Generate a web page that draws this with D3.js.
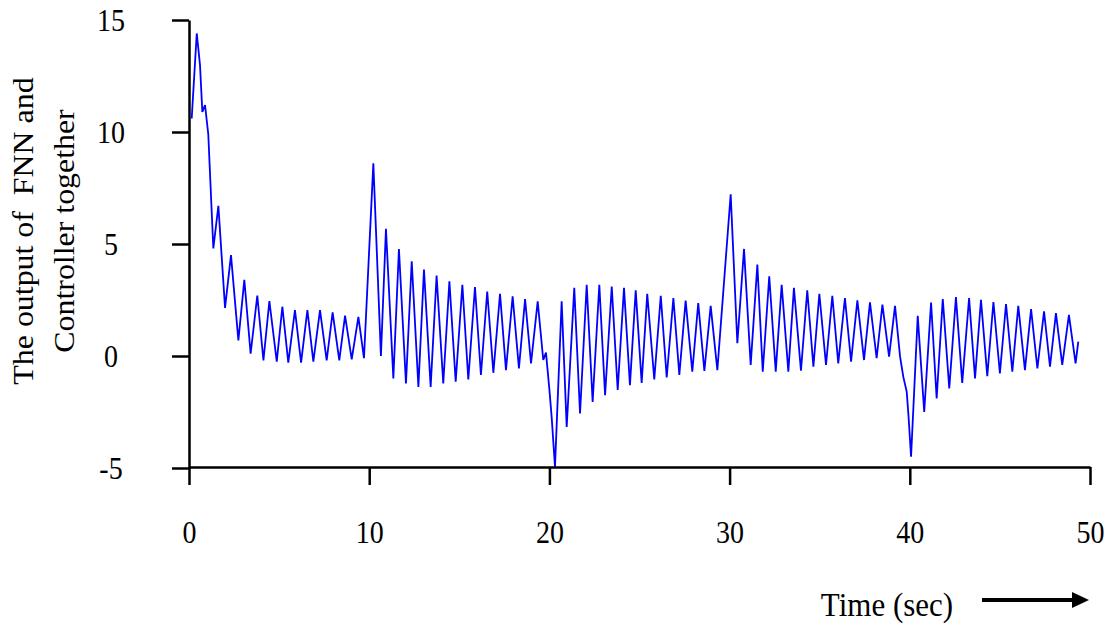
<!DOCTYPE html>
<html><head><meta charset="utf-8">
<script src="https://cdn.jsdelivr.net/npm/d3@7"></script>
<style>
body{margin:0;background:#fff}
svg{display:block}
text{white-space:pre}
</style>
</head><body>
<script>
const xTicks = [0, 10, 20, 30, 40, 50];
const yTicks = [-5, 0, 5, 10, 15];
const yLabelLines = ["The output of  FNN and", "Controller together"];
const xLabel = "Time (sec)";

// Extrema of the output signal (time in s, value)
const time = [
  0.15,0.43,0.61,0.74,0.89,1.07,1.35,1.63,2.00,2.33,2.74,3.07,3.42,3.79,4.13,4.46,4.87,5.18,5.51,5.88,
  6.22,6.57,6.90,7.27,7.64,7.97,8.34,8.66,9.03,9.40,9.71,
  10.23,10.65,10.93,11.34,11.65,12.04,12.36,12.73,13.04,13.41,13.74,14.11,14.45,14.80,15.17,15.50,15.87,
  16.20,16.55,16.89,17.26,17.59,17.96,18.31,18.65,18.98,19.35,19.66,19.81,20.00,20.13,20.31,
  20.68,20.96,21.38,21.70,22.07,22.40,22.77,23.09,23.46,23.79,24.14,24.47,24.79,25.12,25.43,25.82,
  26.18,26.51,26.88,27.21,27.56,27.93,28.26,28.60,28.95,29.32,
  30.06,30.43,30.80,31.17,31.54,31.84,32.20,32.56,32.89,33.26,33.57,33.96,34.31,34.65,34.98,35.35,
  35.70,36.03,36.40,36.74,37.09,37.46,37.79,38.16,38.48,38.85,39.18,39.46,39.64,39.83,39.93,40.07,
  40.44,40.80,41.18,41.49,41.83,42.19,42.56,42.91,43.29,43.62,43.95,44.30,44.64,45.00,45.34,45.69,
  46.02,46.39,46.73,47.08,47.45,47.78,48.11,48.46,48.83,49.20,49.35
];
const output = [
  10.6,14.4,13.0,10.9,11.2,9.9,4.8,6.7,2.15,4.5,0.7,3.4,0.1,2.7,-0.2,2.45,-0.25,2.2,-0.3,2.05,
  -0.3,2.05,-0.25,2.05,-0.2,1.95,-0.2,1.8,-0.15,1.75,-0.1,
  8.6,0.0,5.68,-1.0,4.78,-1.23,4.23,-1.38,3.86,-1.38,3.59,-1.23,3.33,-1.15,3.18,-1.05,3.08,
  -0.85,2.88,-0.75,2.78,-0.63,2.66,-0.55,2.54,-0.33,2.44,-0.18,0.15,-1.5,-2.78,-4.95,
  2.44,-3.17,3.04,-2.57,3.18,-2.05,3.18,-1.75,3.1,-1.52,3.04,-1.3,2.93,-1.2,2.78,-1.05,
  2.69,-0.96,2.59,-0.85,2.47,-0.7,2.36,-0.67,2.24,-0.63,
  7.22,0.57,4.78,-0.4,4.08,-0.7,3.56,-0.7,3.18,-0.7,3.04,-0.66,2.93,-0.48,2.78,-0.4,
  2.69,-0.33,2.59,-0.25,2.48,-0.18,2.39,-0.1,2.29,-0.03,2.24,-0.03,-0.93,-1.6,-2.7,-4.5,
  1.79,-2.5,2.39,-1.9,2.54,-1.45,2.63,-1.2,2.59,-1.0,2.51,-0.9,2.41,-0.78,2.32,-0.7,
  2.24,-0.63,2.09,-0.55,1.99,-0.48,1.91,-0.4,1.84,-0.33,0.64
];

const W = 1111, H = 628;
const FONT = '"Liberation Serif","Times New Roman",serif';
const SY = 1.1; // vertical stretch of the reference's lettering
const svg = d3.select("body").append("svg").attr("width", W).attr("height", H);

const x = d3.scaleLinear().domain([0, 50]).range([189, 1090]);
const y = d3.scaleLinear().domain([-5, 15]).range([468, 20]);

// signal
const data = d3.zip(time, output);
svg.append("path")
  .datum(data)
  .attr("fill", "none")
  .attr("stroke", "#0000ff")
  .attr("stroke-width", 1.8)
  .attr("stroke-linejoin", "miter")
  .attr("d", d3.line().x(d => x(d[0])).y(d => y(d[1])));

// y axis
const gy = svg.append("g").attr("transform", "translate(189,0)")
  .call(d3.axisLeft(y).tickValues(yTicks).tickSize(17).tickSizeOuter(0).tickFormat(d => String(d)));
gy.select(".domain").attr("stroke", "#000").attr("stroke-width", 2.5);
gy.selectAll(".tick line").attr("stroke", "#000").attr("stroke-width", 2.5);
gy.selectAll(".tick text")
  .attr("x", -78).attr("y", 0).attr("dy", "0.34em")
  .attr("text-anchor", "middle")
  .attr("transform", `scale(1,${SY})`)
  .style("font-family", FONT).style("font-size", "28px").attr("fill", "#000");

// x axis
const gx = svg.append("g").attr("transform", "translate(0,467)")
  .call(d3.axisBottom(x).tickValues(xTicks).tickSize(18).tickSizeOuter(0).tickFormat(d => String(d)));
gx.select(".domain").attr("stroke", "#000").attr("stroke-width", 2.5);
gx.selectAll(".tick line").attr("stroke", "#000").attr("stroke-width", 2.5);
gx.selectAll(".tick text")
  .attr("y", 76 / SY).attr("dy", 0)
  .attr("transform", `scale(1,${SY})`)
  .style("font-family", FONT).style("font-size", "28px").attr("fill", "#000");

// y label
const yl = svg.append("g").attr("transform", `translate(0,231) scale(1,${SY})`);
yLabelLines.forEach((s, i) => {
  yl.append("text")
    .attr("transform", `translate(${[33, 74][i]},0) rotate(-90)`)
    .attr("text-anchor", "middle")
    .style("font-family", FONT).style("font-size", "29px")
    .attr("fill", "#000")
    .text(s);
});

// x label
svg.append("text")
  .attr("transform", `translate(887,616) scale(1,${SY})`)
  .attr("text-anchor", "middle")
  .style("font-family", FONT).style("font-size", "31px")
  .attr("fill", "#000")
  .text(xLabel);

// arrow
svg.append("line").attr("x1", 982).attr("y1", 600).attr("x2", 1076).attr("y2", 600)
  .attr("stroke", "#000").attr("stroke-width", 4);
svg.append("path").attr("d", "M1072,592 L1089,600 L1072,608 Z").attr("fill", "#000");
</script>
</body></html>
